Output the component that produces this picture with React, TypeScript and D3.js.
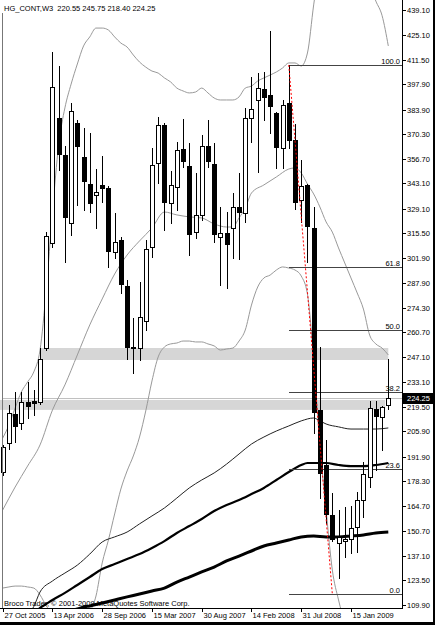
import React from "react";
import * as d3 from "d3";

// ---- OHLC data (3-week bars, 27 Oct 2005 .. May 2009) ----
const openP = [183.4,199.5,215.5,210.5,222.2,222.7,222.2,252.0,310.2,379.3,358.9,321.2,376.6,357.8,342.8,336.7,342.3,340.6,305.2,311.8,286.4,252.6,252.0,267.0,307.9,354.4,375.5,332.3,341.2,362.2,352.8,316.2,325.7,363.8,353.9,313.5,315.7,318.5,330.1,326.8,379.3,389.3,395.4,392.1,382.1,362.7,387.6,367.2,334.0,342.3,318.5,217.7,187.3,159.6,144.1,145.2,146.3,153.0,167.9,180.7,218.3,213.9,220.55];
const highP = [198.4,220.5,227.7,227.7,233.2,228.8,252.0,316.2,415.9,408.1,363.8,387.6,378.2,373.8,371.0,351.1,358.3,341.7,326.8,313.5,289.7,268.7,288.6,311.8,362.7,379.9,376.5,350.0,366.1,378.8,365.5,348.9,369.9,378.2,365.5,330.1,327.3,337.8,348.9,384.9,402.0,404.2,404.8,427.5,382.7,389.3,408.7,376.0,356.1,342.8,330.1,252.6,201.1,171.8,162.4,164.1,164.6,172.4,189.0,222.7,222.7,219.9,245.75];
const lowP = [181.8,196.2,200.0,207.2,213.3,215.0,221.1,250.9,307.9,350.6,299.6,314.6,331.2,328.4,327.3,318.5,332.8,296.9,301.9,282.5,246.0,238.2,245.4,262.0,302.4,343.4,317.4,321.2,328.4,352.2,303.5,312.9,322.9,352.2,310.7,286.9,285.3,301.9,301.3,321.8,366.1,349.4,378.2,371.0,351.7,351.7,362.7,329.0,321.8,299.6,205.0,169.0,155.2,145.0,124.8,136.4,138.6,139.2,158.5,175.1,184.5,195.6,218.40];
const closeP = [197.3,216.1,208.3,222.2,219.4,221.1,246.0,314.0,396.5,358.9,324.0,383.2,363.3,343.9,331.7,338.4,340.0,305.2,310.7,286.9,252.0,251.5,269.2,306.8,353.3,375.5,332.3,342.3,361.6,355.0,314.6,325.7,363.8,355.0,314.6,315.7,309.1,330.1,326.8,379.3,384.3,395.9,390.4,385.4,362.7,386.5,366.6,332.3,341.7,319.0,216.1,182.3,159.6,145.8,147.5,146.3,152.4,167.9,182.3,218.8,213.9,219.4,224.25];

// ---- Bollinger bands ----
const bbUpper = [202.2,209.4,218.9,227.7,233.2,238.8,250.9,284.1,327.3,364.4,384.9,398.1,409.2,419.2,424.2,429.1,429.1,428.0,424.2,420.8,418.6,414.2,410.3,407.5,405.3,404.2,401.5,399.3,395.9,394.3,393.2,393.7,395.9,393.2,390.4,389.3,389.3,389.3,391.0,395.9,397.0,399.8,401.5,403.1,404.8,407.0,409.8,409.8,408.1,415.3,441.9,465,485,495,500,498,490,478,465,453,444,436,419.2];
const bbLower = [119.2,119.8,120.3,120.3,119.8,119.2,115.4,109.3,104,85,72,70,80,92,105,114.8,133.1,145.8,160.2,174.0,184.0,192.3,202.8,217.2,233.8,247.1,252.6,254.3,254.8,255.9,255.9,255.4,255.4,254.3,253.2,250.9,251.5,252.0,255.9,262.0,275.8,285.8,290.8,292.4,295.2,296.9,296.3,295.2,291.9,281.9,245.4,198.4,162.4,129.2,112.6,100,92,87,82,80,78,77,77];
const bbMidBars = [0,2,4,6,8,10,12,14,16,18,20,22,24,26,28,30,32,34,36,37,38,39,40,42,44,46,47,48,49,50,51,52,53,54,55,56,57,58,59,60,61,62];
const bbMid = [162.4,175.1,186.7,198.4,217.7,231.6,248.2,264.8,279.2,293.0,303.5,311.3,318.5,327.3,325.7,324.6,324.0,320.7,319.0,319.0,324.0,329.5,337.8,342.3,346.7,351.1,351.7,348.9,342.8,337.3,330.1,321.8,316.2,307.4,299.1,290.8,282.5,273.6,259.2,254.3,252.0,248.2];

// ---- Moving averages ----
const ma1Bars = [0,4,5,6,8,10,12,14,16,18,20,22,24,26,28,30,32,34,36,38,40,42,44,46,48,50,51,52,54,56,58,60,62];
const ma1 = [95,104,109,117.0,123.1,127.5,131.9,138.0,144.7,147.5,150.2,154.7,159.1,163.5,169.0,174.6,179.0,182.9,187.8,193.4,198.9,202.8,206.1,208.9,211.7,213.3,211.7,210.0,208.4,207.2,207.2,207.2,207.8];
const ma2Bars = [0,4,6,7,8,10,12,14,16,18,20,22,24,26,28,30,32,34,36,38,40,42,44,46,48,49,50,52,54,56,58,60,62];
const ma2 = [90,100,108.2,110.4,112.6,116.5,120.9,125.3,129.7,132.5,135.3,138.0,141.4,145.2,149.7,153.5,157.4,161.8,165.2,167.9,171.2,174.6,179.0,183.4,187.3,188.4,188.4,188.4,187.3,186.7,186.7,187.3,188.4];
const ma3Bars = [0,6,10,12,13,14,16,18,20,22,24,26,28,30,32,34,36,38,40,42,44,46,48,50,52,54,56,58,60,62];
const ma3 = [100,104,106.5,107.6,108.7,109.3,110.9,112.6,114.3,115.9,117.6,119.2,122.5,125.3,128.1,130.8,134.2,136.9,139.7,142.5,144.1,145.8,147.5,148.0,147.5,147.5,148.0,148.6,149.7,150.2];

// ---- Zones (rectangles) ----
const zoneTop = [252.05, 223.3];
const zoneBottom = [245.4, 217.8];
const zoneStartBar = [6, -2];
const zoneEndBar = [62, 61.5];

// ---- Fibonacci ----
const fibHigh = 408.66;
const fibLow = 115.9;
const fibHighBar = 46;
const fibLowBar = 53;
const fibLevels = [0, 23.6, 38.2, 50.0, 61.8, 100.0];
const fibLabels = ["0.0", "23.6", "38.2", "50.0", "61.8", "100.0"];

// ---- Axes ----
const priceTicks = [439.10,425.10,411.50,397.90,383.90,370.30,356.70,343.10,329.10,315.50,301.90,287.90,274.30,260.70,247.10,233.10,219.50,205.90,191.90,178.30,164.70,150.70,137.10,123.50,109.90];
const dateLabels = ["27 Oct 2005","13 Apr 2006","28 Sep 2006","15 Mar 2007","30 Aug 2007","14 Feb 2008","31 Jul 2008","15 Jan 2009"];
const dateLabelBars = [0, 8, 16, 24, 32, 40, 48, 56];
const titleText = "HG_CONT,W3  220.55 245.75 218.40 224.25";
const lastPrice = 224.25;
const watermark = "Broco Trader, \u00a9 2001-2009 MetaQuotes Software Corp.";

export default function App() {
  const W = 435, H = 625;
  const PL = 2, PR = 402, PT = 0, PB = 608;
  const x = d3.scaleLinear().domain([0, 62]).range([2.7, 388.3]);
  const y = d3.scaleLinear().domain([108.16, 444.63]).range([PB, PT]);
  const font = "'Liberation Sans', Arial, sans-serif";
  const fs = 7.5;

  const mk = (bars: number[], vals: number[]) =>
    d3.line<number>().x((_, k) => x(bars[k])).y((v) => y(v)).curve(d3.curveMonotoneX)(vals) || "";
  const allBars = openP.map((_, i) => i);

  const fibPrice = (lv: number) => fibLow + (fibHigh - fibLow) * lv / 100;

  return (
    <div style={{ position: "absolute", left: 0, top: 0 }}>
      <svg width={W} height={H} style={{ display: "block", background: "#fff" }} fontFamily={font}>
        <defs>
          <clipPath id="plot">
            <rect x={0} y={PT} width={PR - 0} height={PB - PT} />
          </clipPath>
        </defs>
        <rect x={0} y={0} width={W} height={H} fill="#fff" />
        <g clipPath="url(#plot)">
          {zoneTop.map((t, k) => (
            <rect key={"z" + k} x={x(zoneStartBar[k])} y={y(t)} width={x(zoneEndBar[k]) - x(zoneStartBar[k])}
              height={y(zoneBottom[k]) - y(t)} fill="#d6d6d6" />
          ))}
          <line x1={PL} x2={PR} y1={Math.round(y(lastPrice)) + 0.5} y2={Math.round(y(lastPrice)) + 0.5} stroke="#c0c0c0" />
          <path d={mk(allBars, bbUpper)} fill="none" stroke="#999" strokeWidth={1} />
          <path d={mk(bbMidBars, bbMid)} fill="none" stroke="#999" strokeWidth={1} />
          <path d={mk(allBars, bbLower)} fill="none" stroke="#999" strokeWidth={1} />
          <path d={mk(ma1Bars, ma1)} fill="none" stroke="#222" strokeWidth={1} />
          <path d={mk(ma2Bars, ma2)} fill="none" stroke="#000" strokeWidth={2.2} />
          <path d={mk(ma3Bars, ma3)} fill="none" stroke="#000" strokeWidth={3} />
          {fibLevels.map((lv, k) => {
            const yy = Math.round(y(fibPrice(lv))) + 0.5;
            return <line key={"f" + k} x1={Math.round(x(fibHighBar))} x2={PR} y1={yy} y2={yy} stroke="#444" />;
          })}
          {openP.map((o, i) => {
            const c = closeP[i];
            const cx = Math.round(x(i));
            const up = c >= o;
            const yt = Math.round(y(Math.max(o, c)));
            const yb = Math.round(y(Math.min(o, c)));
            return (
              <g key={"c" + i}>
                <line x1={cx + 0.5} x2={cx + 0.5} y1={Math.round(y(highP[i]))} y2={Math.round(y(lowP[i])) + 1} stroke="#000" />
                {up ? (
                  <rect x={cx - 1.5} y={yt + 0.5} width={4} height={Math.max(yb - yt, 1)} fill="#fff" stroke="#000" />
                ) : (
                  <rect x={cx - 2} y={yt} width={5} height={Math.max(yb - yt, 1)} fill="#000" />
                )}
              </g>
            );
          })}
          <line x1={x(fibHighBar)} y1={y(fibHigh)} x2={x(fibLowBar)} y2={y(fibLow)} stroke="#f00" strokeDasharray="2,2" />
        </g>
        {fibLevels.map((lv, k) => (
          <text key={"fl" + k} x={400} y={Math.round(y(fibPrice(lv))) - 1.5} fontSize={fs} textAnchor="end" fill="#000">{fibLabels[k]}</text>
        ))}
        {/* frame */}
        <line x1={2.5} x2={2.5} y1={13} y2={PB} stroke="#777" />
        <line x1={PR + 0.5} x2={PR + 0.5} y1={0} y2={PB + 1} stroke="#000" />
        <line x1={0} x2={PR + 1} y1={PB + 0.5} y2={PB + 0.5} stroke="#000" />
        {priceTicks.map((p, k) => {
          const yy = Math.round(y(p)) + 0.5;
          return (
            <g key={"pt" + k}>
              <line x1={PR} x2={PR + 4} y1={yy} y2={yy} stroke="#000" />
              <text x={407} y={yy + 2.8} fontSize={fs} fill="#000">{p.toFixed(2)}</text>
            </g>
          );
        })}
        <rect x={403} y={Math.round(y(lastPrice)) - 5} width={32} height={11} fill="#000" />
        <text x={407} y={Math.round(y(lastPrice)) + 3.3} fontSize={fs} fill="#fff">{lastPrice.toFixed(2)}</text>
        {dateLabels.map((d, k) => {
          const xx = Math.round(x(dateLabelBars[k])) + 0.5;
          return (
            <g key={"d" + k}>
              <line x1={xx} x2={xx} y1={PB} y2={PB + 4} stroke="#000" />
              <text x={xx + 1} y={618} fontSize={fs} fill="#000">{d}</text>
            </g>
          );
        })}
        <text x={4} y={11} fontSize={fs} fill="#000" style={{ whiteSpace: "pre" }}>{titleText}</text>
        <text x={4} y={606} fontSize={fs} fill="#000">{watermark}</text>
        <rect x={0} y={622} width={W} height={3} fill="#000" />
        <rect x={433} y={0} width={2} height={H} fill="#000" />
      </svg>
    </div>
  );
}
